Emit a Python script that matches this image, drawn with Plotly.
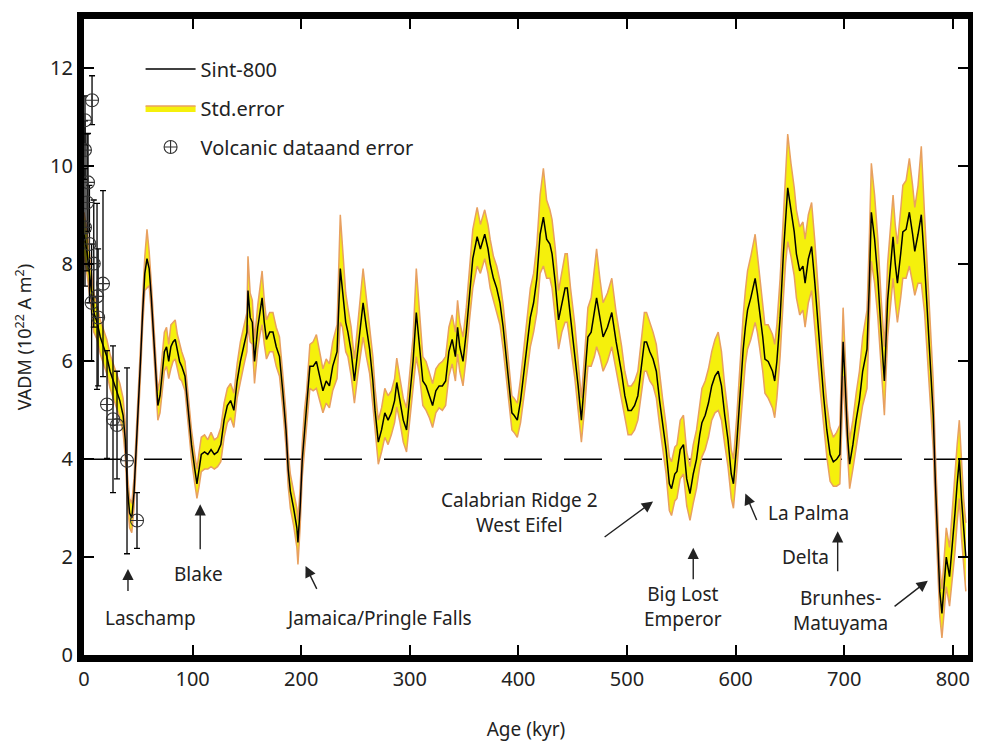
import plotly.graph_objects as go

# ---- Sint-800 curve (age kyr, VADM 1e22 A m^2) ----
ages = [0, 3, 6, 9, 12, 15, 18, 21, 24, 27,
        30, 33, 36, 38, 40, 42, 44, 46, 48, 50,
        52, 54, 56, 58, 60, 62, 64, 66, 68, 70,
        72, 74, 76, 78, 80, 82, 84, 86, 88, 90,
        93, 96, 99, 102, 104, 106, 108, 111, 114, 117,
        120, 123, 126, 129, 132, 135, 138, 141, 144, 147,
        150, 151, 153, 155, 157, 160, 162, 164, 166, 168,
        171, 174, 177, 180, 183, 186, 188, 190, 193, 196,
        197, 199, 201, 203, 205, 208, 211, 214, 217, 220,
        223, 226, 229, 233, 236, 238, 241, 243, 246, 249,
        252, 255, 257, 260, 263, 266, 268, 271, 274, 277,
        280, 283, 286, 288, 291, 294, 297, 300, 303, 306,
        309, 312, 315, 318, 321, 324, 327, 330, 333, 336,
        339, 342, 344, 346, 349, 352, 355, 358, 362, 365,
        369, 372, 374, 377, 380, 383, 386, 389, 392, 394,
        396, 399, 402, 405, 408, 411, 414, 417, 420, 423,
        426, 429, 431, 434, 437, 440, 443, 445, 448, 452,
        455, 458, 461, 464, 467, 470, 472, 475, 478, 482,
        486, 490, 495, 498, 501, 504, 507, 510, 513, 516,
        518, 521, 524, 527, 530, 533, 536, 539, 541, 544,
        546, 549, 552, 555, 558, 561, 564, 567, 569, 572,
        575, 578, 581, 584, 587, 590, 593, 596, 598, 601,
        604, 607, 609, 611, 614, 618, 620, 622, 625, 627,
        630, 634, 636, 638, 641, 644, 646, 648, 651, 654,
        656, 659, 662, 664, 667, 670, 673, 676, 678, 681,
        684, 687, 690, 693, 696, 698, 699, 701, 703, 705,
        708, 711, 714, 717, 721, 723, 725, 728, 731, 734,
        737, 740, 743, 745, 747, 749, 752, 754, 757, 760,
        763, 765, 768, 771, 774, 777, 780, 782, 784, 786,
        788, 790, 792, 794, 797, 800, 802, 804, 806, 808,
        810, 812]

vadm = [8.6, 8.2, 7.6, 7.0, 6.8, 6.5, 6.3, 6.1, 5.8, 5.6,
        5.4, 5.2, 4.9, 4.4, 3.4, 2.9, 2.8, 3.3, 4.2, 5.0,
        6.0, 7.0, 7.8, 8.1, 7.9, 7.3, 6.5, 5.8, 5.1, 5.3,
        5.8, 6.2, 6.3, 6.0, 6.3, 6.4, 6.45, 6.2, 6.0, 5.9,
        5.7, 5.0, 4.3, 3.8, 3.5, 3.8, 4.1, 4.15, 4.1, 4.2,
        4.1, 4.15, 4.3, 4.8, 5.1, 5.2, 5.0, 5.6, 6.0, 6.3,
        6.6, 7.45, 6.9, 6.8, 6.0, 6.7, 7.05, 7.3, 6.8, 6.45,
        6.6, 6.6, 6.3, 6.1, 5.4, 4.6, 3.8, 3.35, 3.0, 2.6,
        2.3, 3.0, 4.0, 4.6, 5.0, 5.9, 5.9, 6.0, 5.7, 5.4,
        5.6, 5.5, 5.9, 6.2, 7.9, 7.5, 6.8, 6.6, 6.2, 5.6,
        6.2, 6.8, 7.2, 6.7, 6.25, 5.6, 5.0, 4.35, 4.6, 4.95,
        4.8, 4.95, 5.2, 5.57, 5.2, 4.8, 4.6, 5.3, 6.0, 7.0,
        6.3, 5.6, 5.5, 5.3, 5.1, 5.4, 5.5, 5.5, 5.6, 6.2,
        6.45, 6.1, 6.7, 6.3, 6.0, 6.6, 7.4, 8.1, 8.55, 8.3,
        8.6, 8.3, 8.0, 7.7, 7.5, 7.2, 6.7, 6.05, 5.3, 4.95,
        4.9, 4.8, 5.2, 5.8, 6.3, 6.9, 7.2, 7.7, 8.6, 8.95,
        8.5, 8.4, 8.2, 7.6, 6.85, 7.2, 7.5, 7.5, 6.9, 6.2,
        5.5, 4.8, 5.6, 6.5, 6.6, 7.0, 7.3, 6.9, 6.5, 6.7,
        7.0, 6.4, 5.77, 5.3, 5.0, 5.0, 5.1, 5.3, 5.9, 6.4,
        6.4, 6.2, 6.05, 5.8, 5.2, 4.7, 4.2, 3.5, 3.4, 3.7,
        3.75, 4.2, 4.3, 3.6, 3.3, 3.7, 4.0, 4.5, 4.75, 4.9,
        5.15, 5.5, 5.7, 5.8, 5.5, 4.9, 4.4, 3.7, 3.5, 4.3,
        5.3, 6.25, 6.7, 7.05, 7.3, 7.7, 7.4, 7.05, 6.5, 6.05,
        6.0, 5.8, 5.6, 6.0, 6.9, 8.2, 9.0, 9.55, 9.1, 8.65,
        8.2, 7.85, 7.95, 7.6, 8.1, 8.35, 7.6, 6.7, 6.1, 5.3,
        4.6, 4.1, 3.95, 4.0, 4.1, 5.4, 6.4, 5.5, 4.5, 3.9,
        4.3, 4.8, 5.2, 5.8, 6.25, 7.5, 9.05, 8.5, 7.7, 6.6,
        5.6, 7.25, 8.0, 8.55, 8.0, 7.6, 8.2, 8.65, 8.7, 9.05,
        8.6, 8.25, 8.6, 9.0, 8.0, 6.9, 5.8, 4.9, 3.5, 2.3,
        1.3, 0.85, 1.5, 2.0, 1.6, 2.3, 2.9, 3.5, 4.0, 3.2,
        2.5, 2.0]

std_err = [0.45, 0.45, 0.4, 0.4, 0.35, 0.35, 0.35, 0.35, 0.35, 0.35,
           0.35, 0.35, 0.35, 0.35, 0.3, 0.3, 0.3, 0.3, 0.3, 0.3,
           0.3, 0.3, 0.35, 0.6, 0.35, 0.3, 0.3, 0.3, 0.3, 0.35,
           0.35, 0.4, 0.4, 0.35, 0.45, 0.4, 0.4, 0.35, 0.35, 0.3,
           0.3, 0.3, 0.3, 0.3, 0.3, 0.35, 0.35, 0.35, 0.3, 0.35,
           0.3, 0.3, 0.35, 0.35, 0.35, 0.35, 0.35, 0.35, 0.4, 0.4,
           0.4, 0.7, 0.5, 0.45, 0.45, 0.45, 0.5, 0.55, 0.45, 0.4,
           0.4, 0.4, 0.4, 0.4, 0.35, 0.35, 0.35, 0.35, 0.35, 0.4,
           0.45, 0.4, 0.35, 0.4, 0.4, 0.45, 0.5, 0.55, 0.5, 0.45,
           0.45, 0.45, 0.5, 0.55, 1.1, 0.8, 0.6, 0.5, 0.5, 0.45,
           0.5, 0.55, 0.7, 0.6, 0.5, 0.5, 0.45, 0.45, 0.45, 0.5,
           0.5, 0.45, 0.45, 0.5, 0.45, 0.45, 0.45, 0.45, 0.5, 0.9,
           0.6, 0.5, 0.5, 0.45, 0.45, 0.45, 0.45, 0.5, 0.5, 0.5,
           0.5, 0.5, 0.55, 0.5, 0.5, 0.5, 0.55, 0.6, 0.6, 0.5,
           0.5, 0.5, 0.5, 0.45, 0.45, 0.45, 0.45, 0.45, 0.4, 0.35,
           0.35, 0.35, 0.45, 0.5, 0.55, 0.6, 0.6, 0.7, 0.8, 1.0,
           0.8, 0.7, 0.7, 0.7, 0.6, 0.6, 0.7, 0.7, 0.6, 0.55,
           0.5, 0.45, 0.55, 0.6, 0.7, 0.9, 1.0, 0.8, 0.7, 0.7,
           0.7, 0.6, 0.55, 0.5, 0.5, 0.5, 0.5, 0.5, 0.55, 0.6,
           0.6, 0.6, 0.55, 0.55, 0.5, 0.5, 0.5, 0.55, 0.55, 0.55,
           0.55, 0.6, 0.6, 0.55, 0.55, 0.6, 0.6, 0.65, 0.7, 0.7,
           0.7, 0.7, 0.75, 0.8, 0.7, 0.6, 0.55, 0.5, 0.5, 0.55,
           0.65, 0.7, 0.75, 0.8, 0.85, 0.9, 0.8, 0.75, 0.7, 0.7,
           0.75, 0.75, 0.75, 0.75, 0.8, 0.9, 1.0, 1.1, 0.95, 0.9,
           0.9, 0.9, 0.9, 0.9, 0.9, 0.9, 0.85, 0.8, 0.7, 0.6,
           0.55, 0.55, 0.5, 0.55, 0.6, 0.6, 0.7, 0.6, 0.5, 0.5,
           0.5, 0.55, 0.6, 0.7, 0.8, 0.9, 1.0, 0.9, 0.8, 0.7,
           0.7, 0.75, 0.8, 0.85, 0.8, 0.8, 0.9, 0.95, 1.0, 1.1,
           1.0, 0.9, 1.0, 1.4, 1.0, 0.9, 0.8, 0.7, 0.6, 0.55,
           0.5, 0.5, 0.6, 0.6, 0.6, 0.7, 0.8, 0.8, 0.8, 0.8,
           0.7, 0.7]

# ---- Volcanic data and error ----
volc_age = [7.4, 0.9, 0.9, 3.7, 2.8, 0.9, 5, 9, 7, 13,
            17.5, 12, 21.2, 26.7, 30.4, 39.6, 48.8]
volc_vadm = [11.34, 10.93, 10.32, 9.66, 9.25, 8.74, 8.4, 8.0, 7.2, 6.9,
             7.59, 7.33, 5.12, 4.82, 4.70, 3.97, 2.75]
volc_err = [0.5, 0.5, 0.6, 1.0, 1.4, 1.2, 1.2, 1.3, 1.2, 1.4,
            1.9, 1.9, 1.1, 1.5, 1.1, 1.9, 0.57]

threshold = 4

x_ticks = [0, 100, 200, 300, 400, 500, 600, 700, 800]
y_ticks = [0, 2, 4, 6, 8, 10, 12]

# ---- Event labels ----
ev_text = ["Laschamp", "Blake", "Jamaica/Pringle Falls", "Calabrian Ridge 2<br>West Eifel",
           "Big Lost<br>Emperor", "La Palma", "Delta", "Brunhes-<br>Matuyama"]
ev_text_x = [61, 105, 272, 401, 552, 667, 664, 697]
ev_text_y = [0.75, 1.65, 0.75, 2.92, 1.0, 2.9, 2.0, 0.91]
ev_tip_x = [40.5, 107, 204, 524, 561, 609, 694, 777]
ev_tip_y = [1.76, 3.08, 1.82, 3.14, 2.19, 3.3, 2.53, 1.52]
ev_tail_x = [40.5, 107, 215, 478, 561, 620, 694, 745]
ev_tail_y = [1.28, 2.13, 1.32, 2.39, 1.52, 2.73, 1.68, 0.97]

FONT = "Noto Sans"
upper = [v + e for v, e in zip(vadm, std_err)]
lower = [v - e for v, e in zip(vadm, std_err)]

fig = go.Figure()

# threshold dashed line
fig.add_trace(go.Scatter(x=[0, 814], y=[threshold, threshold], mode="lines",
                         line=dict(color="black", width=1.5, dash="38px,22px"),
                         showlegend=False, hoverinfo="skip"))

# std error band
fig.add_trace(go.Scatter(x=ages, y=lower, mode="lines",
                         line=dict(color="#e8a060", width=1.5),
                         showlegend=False, hoverinfo="skip"))
fig.add_trace(go.Scatter(x=ages, y=upper, mode="lines", fill="tonexty",
                         fillcolor="#f5f00c", line=dict(color="#e8a060", width=1.5),
                         name="Std.error", legendrank=2, legendgroup="b"))

# main curve
fig.add_trace(go.Scatter(x=ages, y=vadm, mode="lines",
                         line=dict(color="black", width=1.5),
                         name="Sint-800", legendrank=1, legendgroup="a"))

# volcanic data
fig.add_trace(go.Scatter(x=volc_age, y=volc_vadm, mode="markers", cliponaxis=False,
                         marker=dict(symbol="circle-cross-open", size=13, color="#333",
                                     line=dict(width=1.1)),
                         error_y=dict(type="data", array=volc_err, color="black",
                                      thickness=1.3, width=3),
                         name="Volcanic dataand error", legendrank=3, legendgroup="c"))

annotations = []
for t, tx, ty, hx, hy, sx, sy in zip(ev_text, ev_text_x, ev_text_y,
                                      ev_tip_x, ev_tip_y, ev_tail_x, ev_tail_y):
    annotations.append(dict(x=hx, y=hy, ax=sx, ay=sy, xref="x", yref="y",
                            axref="x", ayref="y", text="", showarrow=True,
                            arrowhead=2, arrowsize=1.6, arrowwidth=1.4,
                            arrowcolor="#222"))
    annotations.append(dict(x=tx, y=ty, xref="x", yref="y", text=t, showarrow=False,
                            xanchor="center", yanchor="middle",
                            font=dict(family=FONT, size=19, color="#222"),
                            align="center"))

# page body has an 8px margin: size the figure so the plot area lands where the reference has it
fig.update_layout(
    width=973, height=743,
    margin=dict(l=76, r=13, t=4, b=96),
    paper_bgcolor="white", plot_bgcolor="white",
    font=dict(family=FONT, size=19, color="#222"),
    showlegend=True,
    legend=dict(x=0.064, y=0.952, xanchor="left", yanchor="top",
                bgcolor="rgba(0,0,0,0)", font=dict(size=20, family=FONT),
                tracegroupgap=10, itemwidth=50),
    annotations=annotations,
    xaxis=dict(range=[0, 814], tickvals=x_ticks, ticks="inside", ticklen=10,
               tickwidth=1.5, tickcolor="black", showline=True, linewidth=7,
               linecolor="black", mirror="allticks", showgrid=False, zeroline=False,
               title=dict(text="Age (kyr)", font=dict(size=19), standoff=34),
               tickfont=dict(size=20)),
    yaxis=dict(range=[0, 13], tickvals=y_ticks, ticks="inside", ticklen=10,
               tickwidth=1.5, tickcolor="black", showline=True, linewidth=7,
               linecolor="black", mirror="allticks", showgrid=False, zeroline=False,
               title=dict(text="VADM (10<sup>22</sup> A m<sup>2</sup>)",
                          font=dict(size=18), standoff=16),
               tickfont=dict(size=20)),
)

fig.write_html("out.html")
